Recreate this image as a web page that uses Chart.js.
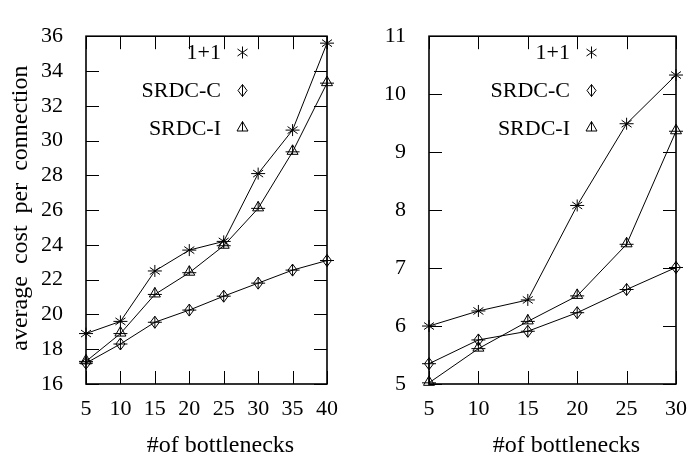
<!DOCTYPE html>
<html>
<head>
<meta charset="utf-8">
<script src="https://cdn.jsdelivr.net/npm/chart.js@4"></script>
<style>
  body { margin: 0; background: #fff; }
  #wrap { position: relative; width: 699px; height: 458px; }
  canvas { position: absolute; top: 0; }
</style>
</head>
<body>
<div id="wrap">
  <canvas id="left" width="350" height="458" style="left:0"></canvas>
  <canvas id="right" width="349" height="458" style="left:350px"></canvas>
</div>
<script>
// left panel
const bottlenecksA = [5, 10, 15, 20, 25, 30, 35, 40];
const onePlusOneA = [18.9, 19.6, 22.5, 23.7, 24.2, 28.1, 30.6, 35.6];
const srdcCA = [17.2, 18.3, 19.55, 20.25, 21.05, 21.8, 22.55, 23.1];
const srdcIA = [17.3, 18.9, 21.15, 22.4, 23.95, 26.1, 29.35, 33.3];
const yTicksA = [16, 18, 20, 22, 24, 26, 28, 30, 32, 34, 36];

// right panel
const bottlenecksB = [5, 10, 15, 20, 25, 30];
const onePlusOneB = [6.0, 6.26, 6.45, 8.08, 9.49, 10.33];
const srdcCB = [5.35, 5.76, 5.91, 6.23, 6.63, 7.01];
const srdcIB = [5.02, 5.61, 6.08, 6.52, 7.41, 9.36];
const yTicksB = [5, 6, 7, 8, 9, 10, 11];

const seriesNames = ['1+1', 'SRDC-C', 'SRDC-I'];
const kinds = ['star', 'diamond', 'triangle'];
const serif = '"Liberation Serif", "DejaVu Serif", serif';

// gnuplot-like point: shape + error bar stroke
function drawMark(ctx, kind, x, y, withCap) {
    ctx.beginPath();
    if (kind === 'star') {
        ctx.moveTo(x, y - 6); ctx.lineTo(x, y + 6);
        ctx.moveTo(x - 5, y - 3.5); ctx.lineTo(x + 5, y + 3.5);
        ctx.moveTo(x - 5, y + 3.5); ctx.lineTo(x + 5, y - 3.5);
    } else if (kind === 'diamond') {
        ctx.moveTo(x, y - 6); ctx.lineTo(x + 4.5, y); ctx.lineTo(x, y + 6); ctx.lineTo(x - 4.5, y); ctx.closePath();
        ctx.moveTo(x, y - 6); ctx.lineTo(x, y + 6);
    } else {
        ctx.moveTo(x, y - 7); ctx.lineTo(x + 5.5, y + 2.5); ctx.lineTo(x - 5.5, y + 2.5); ctx.closePath();
        ctx.moveTo(x, y - 7); ctx.lineTo(x, y + 2.5);
    }
    if (withCap) {
        ctx.moveTo(x - 7, y); ctx.lineTo(x + 7, y);
    }
    ctx.stroke();
}

const framePlugin = {
    id: 'frame',
    afterDatasetsDraw(chart, args, opts) {
        const ctx = chart.ctx;
        const a = chart.chartArea;
        const xs = chart.scales.x, ys = chart.scales.y;
        ctx.save();
        ctx.strokeStyle = '#000';
        ctx.lineWidth = 1;
        ctx.beginPath();
        xs.ticks.forEach((t, i) => {
            const px = Math.round(xs.getPixelForTick(i)) + 0.5;
            ctx.moveTo(px, a.bottom); ctx.lineTo(px, a.bottom - 13);
            ctx.moveTo(px, a.top); ctx.lineTo(px, a.top + 13);
        });
        ys.ticks.forEach(t => {
            const py = Math.round(ys.getPixelForValue(t.value)) + 0.5;
            ctx.moveTo(a.left, py); ctx.lineTo(a.left + 13, py);
            ctx.moveTo(a.right, py); ctx.lineTo(a.right - 13, py);
        });
        ctx.stroke();
        ctx.lineWidth = 1.6;
        ctx.strokeRect(a.left, a.top, a.right - a.left, a.bottom - a.top);

        // point marks at the positions the line controller computed
        ctx.lineWidth = 1;
        chart.data.datasets.forEach((ds, i) => {
            chart.getDatasetMeta(i).data.forEach(pt => {
                drawMark(ctx, kinds[i], pt.x, pt.y, true);
            });
        });

        // legend
        ctx.fillStyle = '#000';
        ctx.font = '22px ' + serif;
        ctx.textAlign = 'right';
        ctx.textBaseline = 'middle';
        const rows = [53, 91, 129];
        seriesNames.forEach((name, i) => {
            ctx.fillText(name, a.right - 106, rows[i]);
            drawMark(ctx, kinds[i], a.right - 84.5, rows[i] - 0.5, false);
        });

        // axis titles
        ctx.font = '24px ' + serif;
        ctx.textAlign = 'center';
        ctx.textBaseline = 'alphabetic';
        ctx.fillText('#of bottlenecks', (a.left + a.right) / 2 + 14, 452);
        if (opts.yTitle) {
            ctx.wordSpacing = '6px';
            ctx.translate(27, (a.top + a.bottom) / 2 - 2);
            ctx.rotate(-Math.PI / 2);
            ctx.fillText(opts.yTitle, 0, 0);
        }
        ctx.restore();
    }
};

function buildChart(id, labels, s1, s2, s3, yTicks, yWidth, padRight, yTitle) {
    const sets = [s1, s2, s3].map((d, i) => ({
        label: seriesNames[i],
        data: d,
        borderColor: '#000',
        borderWidth: 1,
        pointRadius: 0,
        clip: false,
        tension: 0
    }));
    new Chart(document.getElementById(id), {
        type: 'line',
        data: { labels: labels, datasets: sets },
        options: {
            responsive: false,
            animation: false,
            events: [],
            layout: { padding: { top: 19.5, right: padRight, bottom: 0, left: 0 } },
            plugins: {
                legend: { display: false },
                tooltip: { enabled: false },
                frame: { yTitle: yTitle }
            },
            scales: {
                x: {
                    offset: false,
                    grid: { display: false, drawTicks: false },
                    border: { display: false },
                    ticks: { color: '#000', font: { family: serif, size: 22 }, padding: 12, maxRotation: 0 },
                    afterFit(s) { s.height = 74; }
                },
                y: {
                    min: yTicks[0],
                    max: yTicks[yTicks.length - 1],
                    afterBuildTicks(s) { s.ticks = yTicks.map(v => ({ value: v })); },
                    grid: { display: false, drawTicks: false },
                    border: { display: false },
                    ticks: { color: '#000', font: { family: serif, size: 22 }, padding: 23 },
                    afterFit(s) { s.width = yWidth; }
                }
            }
        },
        plugins: [framePlugin]
    });
}

buildChart('left', bottlenecksA, onePlusOneA, srdcCA, srdcIA, yTicksA, 86, 16, 'average cost per connection');
buildChart('right', bottlenecksB, onePlusOneB, srdcCB, srdcIB, yTicksB, 79, 12, null);
</script>
</body>
</html>
